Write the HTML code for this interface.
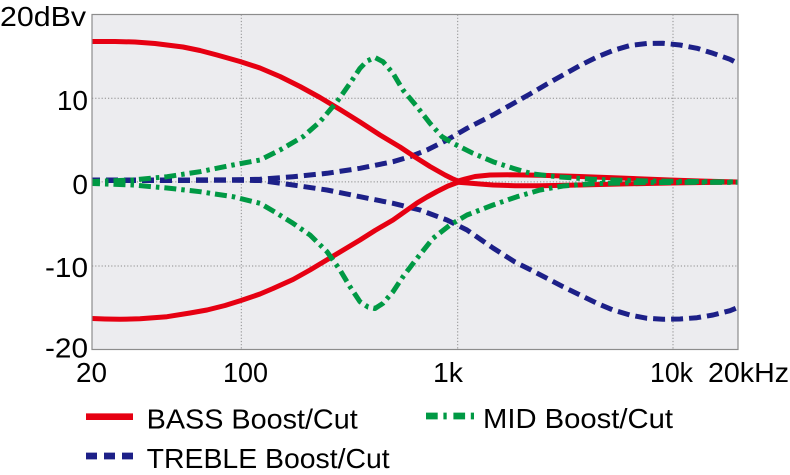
<!DOCTYPE html>
<html>
<head>
<meta charset="utf-8">
<style>
html,body{margin:0;padding:0;background:#fff;}
svg{display:block;}
text{font-family:"Liberation Sans",Arial,sans-serif;fill:#000;}
</style>
</head>
<body>
<svg width="790" height="475" viewBox="0 0 790 475" xmlns="http://www.w3.org/2000/svg">
<defs>
<clipPath id="pc"><rect x="92" y="14.5" width="646" height="335"/></clipPath>
</defs>
<rect x="92" y="14.5" width="646" height="335" fill="#ececef"/>
<g stroke="#8c8c8c" stroke-width="1" stroke-dasharray="1.2 2" fill="none">
<line x1="241.3" y1="14.5" x2="241.3" y2="349.5"/>
<line x1="457.7" y1="14.5" x2="457.7" y2="349.5"/>
<line x1="673" y1="14.5" x2="673" y2="349.5"/>
<line x1="92" y1="98.3" x2="738" y2="98.3"/>
<line x1="92" y1="181.9" x2="738" y2="181.9"/>
<line x1="92" y1="266" x2="738" y2="266"/>
</g>
<g clip-path="url(#pc)" fill="none" stroke-linejoin="round">
<!-- TREBLE -->
<g stroke="#1d2088" stroke-width="5" stroke-dasharray="12 6">
<polyline points="88,180 130,180 180,180 230,179.8 260,179.3 293,176.7 327,173.3 360,168.3 393,161.7 410,156.7 427,150 447,140 467,128.3 493,115 515,102.5 530,94 547,84 563,75 580,65.5 597,57 613,50.5 630,45.5 647,43.5 663,43.3 680,45 697,48.3 713,53.3 730,59.3 740,64.5"/>
<polyline points="88,180.5 130,180.5 180,180.5 230,180.2 260,180.5 293,185 327,190 360,196.7 393,203.3 420,210 447,220 467,230 493,248 515,262 530,269.5 547,278.3 563,286.7 580,295 597,303.3 613,310 630,315 647,318.3 663,319.3 680,319 697,317.7 713,315 730,310.7 740,306.5"/>
</g>
<!-- BASS -->
<g stroke="#e60012" stroke-width="5">
<polyline points="88,41.5 115,41.5 135,42 155,43.5 183,47 200,50.5 217,55 240,61.5 260,68 280,76.5 300,86.5 320,97.5 340,109.5 360,122 380,135 400,147 415,157 430,166.5 445,175 452,178.5 458,181 465,179 475,176.5 490,175 510,174.8 540,175.3 580,176.5 620,178 670,180 700,181 740,182"/>
<polyline points="88,318.3 105,319 120,319.3 140,318.8 167,316.7 190,313 207,310 225,305.5 241,300.5 260,294 273,288.5 293,279.5 310,270 330,258 345,249 360,240 375,230.5 393,220 405,211.5 417,203 427,197 437,191.5 448,186 458,182.3 468,183 480,184 493,185 515,185.7 540,185.8 580,185 620,184 670,183 740,182"/>
</g>
<!-- MID -->
<g stroke="#009944" stroke-width="5" stroke-dasharray="12 5 3.5 5">
<polyline points="88,181.7 133,180 167,176.7 200,171.7 233,165 260,160 280,150 303,136.7 320,121.7 337,101.7 350,83.3 360,68.3 367,61 375,57.5 383,61.7 393,73.3 403,90 417,106.7 430,123.3 442,136.7 453,143.3 473,153.3 493,161.7 513,168.3 533,174 560,177 597,179.5 650,181 740,182"/>
<polyline points="88,183.3 133,185 167,188 200,191.7 233,196.7 260,203.3 277,213.3 293,223.3 310,235 327,251.7 340,270 350,286.7 360,301.7 368,307 375,308.5 383,303.3 393,291.7 403,276.7 417,258.3 433,238.3 450,225 467,215 493,205 517,196.7 540,190 563,186 597,183.5 650,182.5 740,182.3"/>
</g>
</g>
<rect x="92" y="14.5" width="646" height="335" fill="none" stroke="#8c8c8c" stroke-width="1.2"/>
<!-- Y labels -->
<text x="0" y="26" font-size="28" textLength="86" lengthAdjust="spacingAndGlyphs">20dBv</text>
<text x="88" y="110" font-size="28" text-anchor="end">10</text>
<text x="88" y="194" font-size="28" text-anchor="end">0</text>
<text x="45" y="277" font-size="28" textLength="43" lengthAdjust="spacingAndGlyphs">-10</text>
<text x="45" y="357.5" font-size="28" textLength="43" lengthAdjust="spacingAndGlyphs">-20</text>
<!-- X labels -->
<text x="76" y="382" font-size="28" textLength="31" lengthAdjust="spacingAndGlyphs">20</text>
<text x="223" y="382" font-size="28" textLength="45" lengthAdjust="spacingAndGlyphs">100</text>
<text x="433" y="382" font-size="28" textLength="30" lengthAdjust="spacingAndGlyphs">1k</text>
<text x="650" y="382" font-size="28" textLength="43" lengthAdjust="spacingAndGlyphs">10k</text>
<text x="708" y="382" font-size="28" textLength="81" lengthAdjust="spacingAndGlyphs">20kHz</text>
<!-- Legend -->
<line x1="86" y1="416.7" x2="133" y2="416.7" stroke="#e60012" stroke-width="6.7"/>
<text x="146.7" y="428.3" font-size="28" textLength="211" lengthAdjust="spacingAndGlyphs">BASS Boost/Cut</text>
<line x1="86" y1="456" x2="133" y2="456" stroke="#1d2088" stroke-width="6.7" stroke-dasharray="11 7"/>
<text x="146.7" y="468" font-size="28" textLength="243" lengthAdjust="spacingAndGlyphs">TREBLE Boost/Cut</text>
<line x1="426" y1="416" x2="474" y2="416" stroke="#009944" stroke-width="6.7" stroke-dasharray="11.7 5.7 3.3 6.7"/>
<text x="483" y="428" font-size="28" textLength="190" lengthAdjust="spacingAndGlyphs">MID Boost/Cut</text>
</svg>
</body>
</html>
